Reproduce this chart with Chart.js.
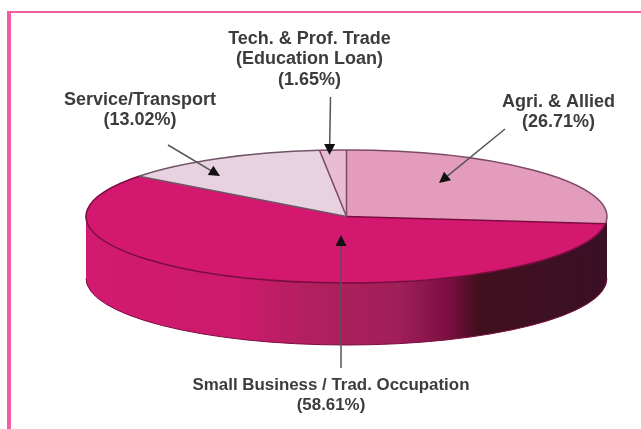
<!DOCTYPE html>
<html>
<head>
<meta charset="utf-8">
<style>
html,body{margin:0;padding:0;background:#fff;width:641px;height:429px;overflow:hidden}
#frame{position:absolute;left:7px;top:11px;right:0;bottom:0;border-left:4px solid #ee5fa3;border-top:2px solid #ee5fa3;box-sizing:border-box}
#wrap{position:absolute;left:0;top:0;width:641px;height:429px}
</style>
<script src="https://cdn.jsdelivr.net/npm/chart.js@4"></script>
</head>
<body>
<div id="frame"></div>
<div id="wrap"><canvas id="c" width="641" height="429"></canvas></div>
<script>
const categories = ["Agri. & Allied","Small Business / Trad. Occupation","Service/Transport","Tech. & Prof. Trade (Education Loan)"];
const shares = [26.71,58.61,13.02,1.65];
const sliceColors = ["#e39cbc","#d5186f","#e8d2df","#e8bdd2"];
const rimColors = ["#7d4a66","#7a0d40","#6e5566","#7d4a66"];
const calloutLines = [
  ["Agri. & Allied","(26.71%)"],
  ["Small Business / Trad. Occupation","(58.61%)"],
  ["Service/Transport","(13.02%)"],
  ["Tech. & Prof. Trade","(Education Loan)","(1.65%)"]
];
const calloutText = [[558.5,102],[331,385],[140,100],[309.5,39]];
const calloutSizes = [18,16.9,18,18];
const calloutArrows = [[[505,129],[439,183]],[[341,368],[341,235]],[[168,145],[220,176]],[[330.5,97],[329.5,155]]];
const tilt = 0.2553, depth = 62, radiusPx = 260.5;
const wallStops = [[0,"#d21a70"],[0.3,"#cc1a6c"],[0.42,"#b3205f"],[0.6,"#a01f58"],[0.7,"#7a0e40"],[0.75,"#42101f"],[1,"#3a1025"]];

const pie3d = {
  id:"pie3d",
  beforeDatasetsDraw(chart){
    const ctx = chart.ctx, arc0 = chart.getDatasetMeta(0).data[0];
    const x = arc0.x, y = arc0.y, r = arc0.outerRadius;
    const g = ctx.createLinearGradient(x-r,0,x+r,0);
    wallStops.forEach(s=>g.addColorStop(s[0],s[1]));
    ctx.save();
    ctx.beginPath();
    ctx.ellipse(x,y,r,r*tilt,0,Math.PI,0,true);
    ctx.ellipse(x,y+depth,r,r*tilt,0,0,Math.PI,false);
    ctx.closePath();
    ctx.fillStyle = g;
    ctx.fill();
    ctx.restore();
    ctx.save();
    ctx.translate(0,y);
    ctx.scale(1,tilt);
    ctx.translate(0,-y);
  },
  afterDatasetsDraw(chart){
    const ctx = chart.ctx, arcs = chart.getDatasetMeta(0).data;
    ctx.restore();
    const x = arcs[0].x, y = arcs[0].y, r = arcs[0].outerRadius;
    ctx.lineWidth = 1.5;
    arcs.forEach((a,i)=>{
      ctx.strokeStyle = rimColors[i];
      ctx.beginPath();
      ctx.moveTo(x,y);
      ctx.lineTo(x+r*Math.cos(a.startAngle),y+r*tilt*Math.sin(a.startAngle));
      ctx.stroke();
      ctx.beginPath();
      ctx.ellipse(x,y,r,r*tilt,0,a.startAngle,a.endAngle);
      ctx.stroke();
    });
    ctx.strokeStyle = "#7a0d40";
    ctx.lineWidth = 1;
    ctx.beginPath();
    ctx.ellipse(x,y+depth,r,r*tilt,0,0,Math.PI);
    ctx.stroke();
    calloutArrows.forEach(p=>{
      const [a,b] = p, ang = Math.atan2(b[1]-a[1],b[0]-a[0]);
      ctx.strokeStyle = "#555";
      ctx.lineWidth = 1.5;
      ctx.beginPath();ctx.moveTo(a[0],a[1]);ctx.lineTo(b[0]-8*Math.cos(ang),b[1]-8*Math.sin(ang));ctx.stroke();
      ctx.fillStyle = "#111";
      ctx.beginPath();
      ctx.moveTo(b[0],b[1]);
      ctx.lineTo(b[0]-11*Math.cos(ang)-5.5*Math.sin(ang),b[1]-11*Math.sin(ang)+5.5*Math.cos(ang));
      ctx.lineTo(b[0]-11*Math.cos(ang)+5.5*Math.sin(ang),b[1]-11*Math.sin(ang)-5.5*Math.cos(ang));
      ctx.closePath();ctx.fill();
    });
    ctx.fillStyle = "#3c3c3c";
    ctx.textAlign = "center";
    ctx.textBaseline = "middle";
    calloutLines.forEach((lines,i)=>{
      ctx.font = "bold "+calloutSizes[i]+"px 'Liberation Sans', Arial, sans-serif";
      lines.forEach((t,j)=>ctx.fillText(t,calloutText[i][0],calloutText[i][1]+j*20.5));
    });
  }
};

new Chart(document.getElementById("c"),{
  type:"pie",
  data:{labels:categories,datasets:[{data:shares,backgroundColor:sliceColors,borderWidth:0,clip:false}]},
  options:{
    responsive:false,
    animation:false,
    radius:radiusPx,
    layout:{padding:{left:52,top:4}},
    plugins:{legend:{display:false},tooltip:{enabled:false}}
  },
  plugins:[pie3d]
});
</script>
</body>
</html>
